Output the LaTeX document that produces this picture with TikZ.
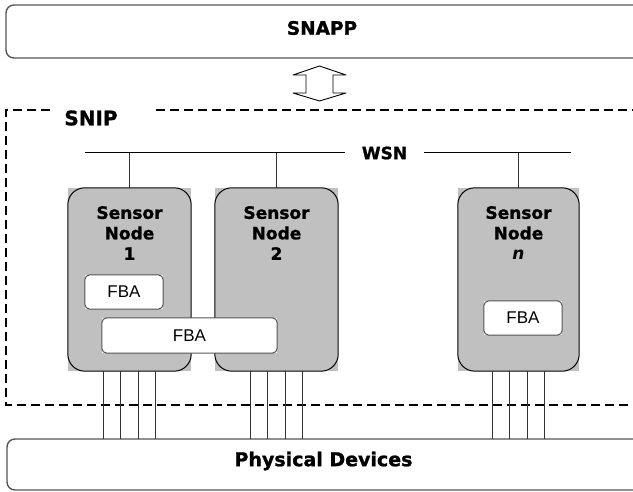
\documentclass[tikz,border=0pt]{standalone}
\usepackage{fontspec}
\newfontfamily\verd[BoldFeatures={FakeBold=1.2}]{DejaVu Sans}
\newfontfamily\arialf{Liberation Sans}
\definecolor{nodegray}{HTML}{C0C0C0}
\definecolor{rimgray}{HTML}{555555}
\definecolor{wiregray}{HTML}{333333}
\begin{document}
\begin{tikzpicture}[x=1pt,y=-1pt,
  layerbox/.style={draw=rimgray, line width=1.4pt, rounded corners=8pt},
  layertext/.style={font=\verd\bfseries\fontsize{18.5}{22}\selectfont, inner sep=0pt},
  sensorbox/.style={rectangle, fill=nodegray, inner sep=0pt, minimum height=183pt},
  sensorrim/.style={draw=black, line width=1pt, rounded corners=17pt},
  sensortext/.style={align=center, font=\verd\bfseries\fontsize{17}{20.5}\selectfont, inner sep=0pt},
  fbabox/.style={rectangle, fill=white, inner sep=0pt, minimum height=34pt,
    font=\arialf\fontsize{17}{20}\selectfont},
  fbarim/.style={draw=rimgray, line width=1pt, rounded corners=5pt},
  snipline/.style={dashed, dash pattern=on 9pt off 5pt, line width=1.8pt, draw=black},
  wire/.style={draw=wiregray, line width=0.9pt},
  updown/.style={draw=black, fill=white, line width=0.9pt, line join=round}
]
\useasboundingbox (0,0) rectangle (633,492);
\clip (0,0) rectangle (633,492);
\fill[white] (0,0) rectangle (633,492);

% application layer
\draw[layerbox] (6,58) -- (6,5) -- (660,5) -- (660,58) -- cycle;
\node[layertext] (snapp) at (322,28) {SNAPP};

% two-way arrow between the layers
\draw[updown] (306,93) -- (293,93) -- (319.5,101) -- (346,93) -- (333,93)
  -- (333,75) -- (346,75) -- (319.5,66) -- (293,75) -- (306,75) -- cycle;

% SNIP layer boundary
\node[font=\verd\bfseries\fontsize{20}{24}\selectfont, inner sep=0pt] (snip) at (91,118) {SNIP};
\coordinate (snipA) at (50,110);
\coordinate (snipB) at (156,110);
\draw[snipline] (snipA) -- (6,110) -- (6,405) -- (660,405);
\draw[snipline] (snipB) -- (660,110);

% wireless network bus
\node[font=\verd\bfseries\fontsize{17}{20}\selectfont, inner sep=0pt, minimum width=79pt] (wsn) at (384.5,153) {WSN};
\coordinate (wsnL) at (85,153);
\coordinate (wsnR) at (571,153);
\draw[draw=black, line width=1pt] (wsnL) -- (wsn.west);
\draw[draw=black, line width=1pt] (wsn.east) -- (wsnR);

% sensor nodes
\node[sensorbox, minimum width=123pt] (n1) at (129.5,279.5) {};
\node[sensorbox, minimum width=123pt] (n2) at (276.5,279.5) {};
\node[sensorbox, minimum width=121pt] (nn) at (518.5,279.5) {};
\foreach \s in {n1,n2,nn}{
  \draw[sensorrim] (\s.south west) rectangle (\s.north east);
  \draw[wire] (\s.north |- wsnL) -- (\s.north);
}
\node[sensortext] (n1t) at (129.5,233) {Sensor\\Node\\1};
\node[sensortext] (n2t) at (276.5,233) {Sensor\\Node\\2};
\node[sensortext] (nnt) at (518.5,233) {Sensor\\Node\\\textit{n}};

% function block adapters
\node[fbabox, minimum width=78pt] (fba1) at (124,292) {FBA};
\draw[fbarim] (fba1.south west) rectangle (fba1.north east);
\node[fbabox, minimum width=175pt, minimum height=35pt] (fba12) at (189.5,335.5) {FBA};
\draw[fbarim] (fba12.south west) rectangle (fba12.north east);
\node[fbabox, minimum width=78pt] (fban) at (523,318) {FBA};
\draw[fbarim] (fban.south west) rectangle (fban.north east);

% physical layer
\draw[layerbox] (660,490) -- (7,490) -- (7,439) -- (660,439);
\node[layertext, font=\verd\bfseries\fontsize{19}{22}\selectfont] (phys) at (323.5,461) {Physical Devices};
\coordinate (physTop) at (0,439);

% wiring from each node down to the devices
\foreach \s in {n1,n2,nn}{
  \foreach \dx in {-26,-9,8.5,26}{
    \draw[wire] ([xshift=\dx pt]\s.south) -- ([xshift=\dx pt]\s.south |- physTop);
  }
}
\end{tikzpicture}
\end{document}
